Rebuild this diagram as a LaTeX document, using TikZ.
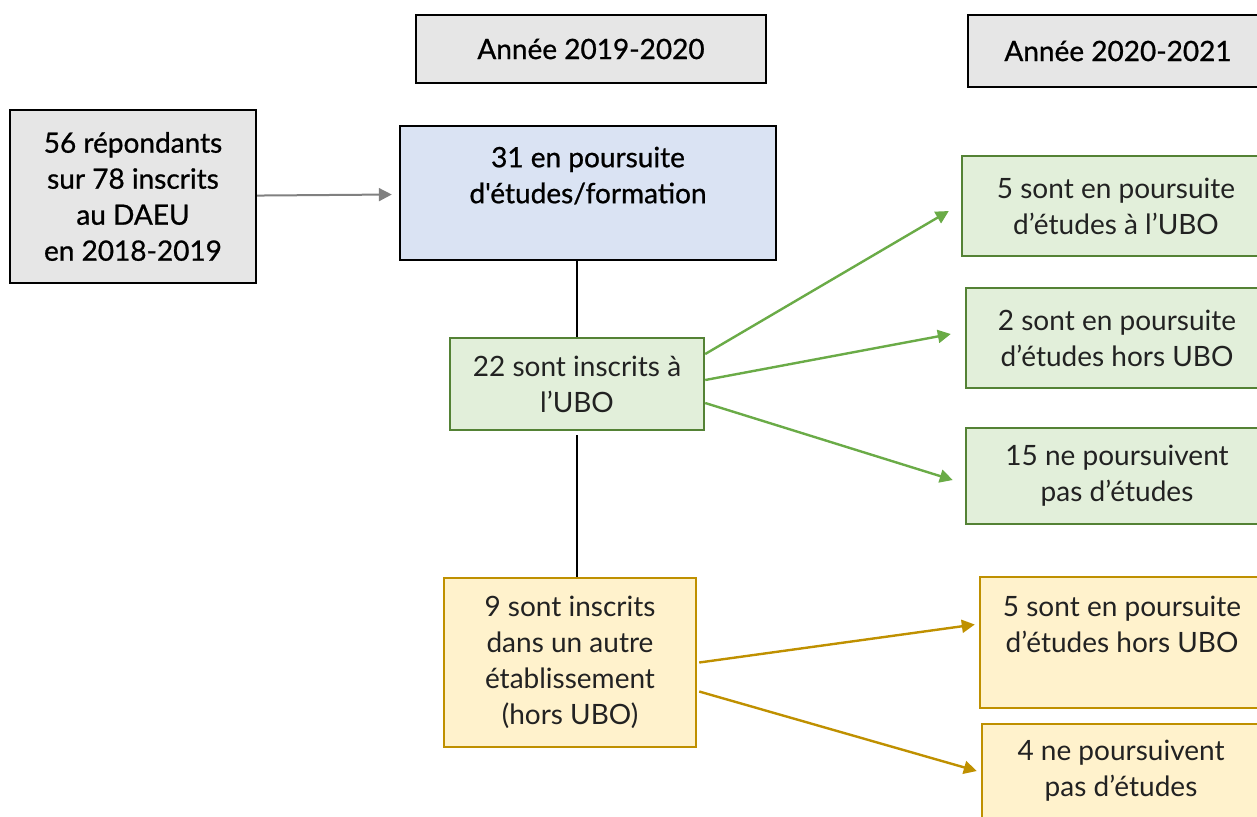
\documentclass[tikz,border=0pt]{standalone}
\usepackage{fontspec}
\setmainfont{Lato}
\newfontfamily\moyen[FakeBold=0.8]{Lato}
\usetikzlibrary{arrows.meta}
\definecolor{grisfond}{HTML}{E6E6E6}
\definecolor{bleufond}{HTML}{DAE3F3}
\definecolor{vertfond}{HTML}{E2EFDA}
\definecolor{vertbord}{HTML}{548235}
\definecolor{vertfleche}{HTML}{6AAB47}
\definecolor{jaunefond}{HTML}{FFF2CC}
\definecolor{jaunebord}{HTML}{BF9000}
\definecolor{texte}{HTML}{222222}
\tikzset{
  boite/.style={draw,rectangle,line width=1.2pt,align=center,inner sep=0pt,text=texte,font=\fontsize{14}{18}\selectfont},
  boiteGrise/.style={boite,fill=grisfond,text=black,font=\moyen\fontsize{14}{18}\selectfont},
  boiteBleue/.style={boite,fill=bleufond,text=black,font=\moyen\fontsize{14}{18}\selectfont},
  boiteVerte/.style={boite,fill=vertfond,draw=vertbord},
  boiteJaune/.style={boite,fill=jaunefond,draw=jaunebord},
  flecheVerte/.style={line width=1.2pt,vertfleche,-{Triangle[length=6.5pt,width=6.5pt]}},
  flecheJaune/.style={line width=1.2pt,jaunebord,-{Triangle[length=6.5pt,width=6.5pt]}}
}
\newcommand{\etape}[7]{\node[#1,minimum width=#5pt,minimum height=#6pt] (#2) at (#3,#4) {#7};}
\newcommand{\lien}[2]{\draw[line width=0.6pt] (#1) -- (#1 |- #2);}

\begin{document}
\begin{tikzpicture}[x=0.5pt,y=-0.5pt]
    \useasboundingbox (0,0) rectangle (1257,816);
    \etape{boiteGrise}{an1}{591}{49}{175}{34}{Année 2019-2020}
    \etape{boiteGrise}{an2}{1118}{51}{150}{36}{Année 2020-2021}
    \etape{boiteGrise}{rep}{133}{196.5}{123}{86.5}{56 répondants\\sur 78 inscrits\\au DAEU\\en 2018-2019}
    \etape{boiteBleue}{pours}{588}{193}{188}{67}{31 en poursuite\\d'études/formation\\\mbox{}}
    \etape{boiteVerte}{ubo}{577}{384}{127}{46}{22 sont inscrits à\\l'UBO}
    \etape{boiteJaune}{autre}{570}{662.5}{126}{84.5}{9 sont inscrits\\dans un autre\\établissement\\(hors UBO)}
    \etape{boiteVerte}{g1}{1116}{206}{154}{50}{5 sont en poursuite\\d'études à l'UBO}
    \etape{boiteVerte}{g2}{1117}{338}{151}{50}{2 sont en poursuite\\d'études hors UBO}
    \etape{boiteVerte}{g3}{1117}{476}{151}{48}{15 ne poursuivent\\pas d'études}
    \etape{boiteJaune}{y1}{1122}{642.5}{142}{65.5}{5 sont en poursuite\\d'études hors UBO\\\mbox{}}
    \etape{boiteJaune}{y2}{1121}{771}{139}{47}{4 ne poursuivent\\pas d'études}
    % liens
    \draw[line width=1pt,gray,-{Triangle[length=6.5pt,width=6.5pt]},shorten >=3.5pt] (rep) -- (pours);
    \lien{ubo.north}{pours.south}
    \draw[line width=1pt,shorten <=2pt] (ubo.south) -- (ubo.south |- autre.north);
    \draw[flecheVerte] ([yshift=15pt]ubo.east) -- ([xshift=-6pt,yshift=-2.5pt]g1.west);
    \draw[flecheVerte] ([yshift=2pt]ubo.east) -- ([xshift=-7pt,yshift=2pt]g2.west);
    \draw[flecheVerte] ([yshift=-9.5pt]ubo.east) -- ([xshift=-6pt,yshift=-2pt]g3.west);
    \draw[flecheJaune] ([xshift=1pt]autre.east) -- ([xshift=-2pt,yshift=9pt]y1.west);
    \draw[flecheJaune] ([xshift=1pt,yshift=-14.5pt]autre.east) -- ([xshift=-2pt]y2.west);
\end{tikzpicture}
\end{document}
